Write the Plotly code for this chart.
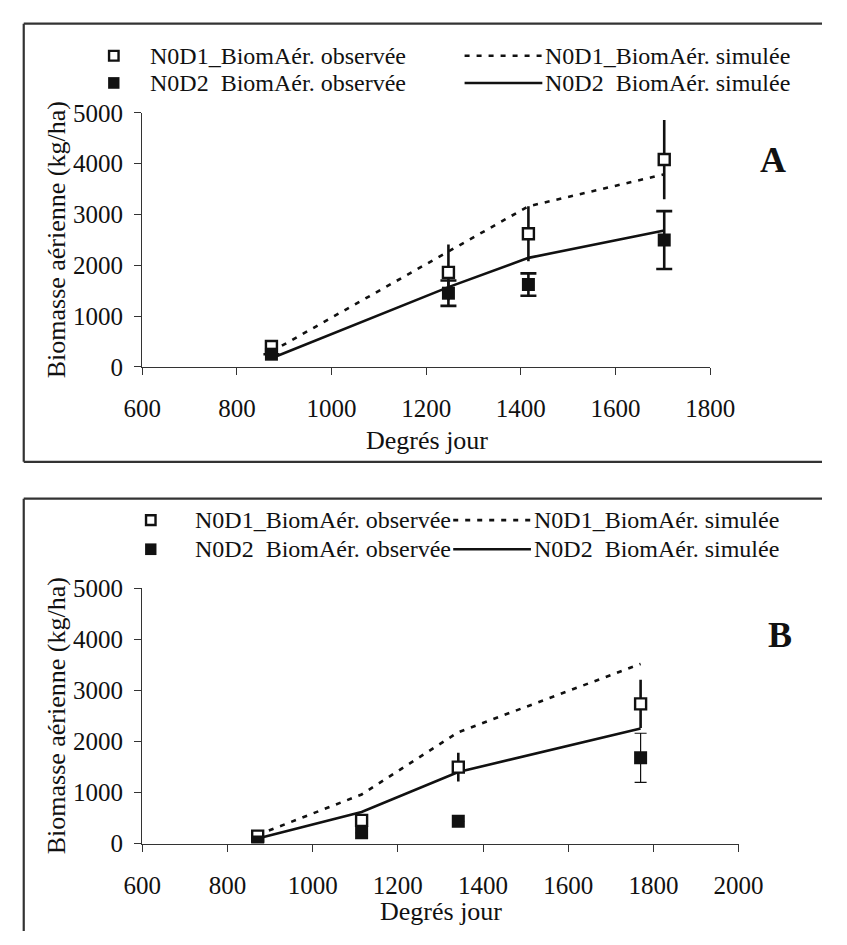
import plotly.graph_objects as go

W, H = 847, 945

# ---------------- data ----------------
# Panel A
a_x = [873, 1247, 1416, 1703]
a_d1_obs = [400, 1860, 2620, 4080]
a_d1_err = [0, 550, 540, 780]
a_d2_obs = [250, 1450, 1620, 2495]
a_d2_err = [0, 250, 220, 570]
a_d1_sim = [300, 2280, 3160, 3790]
a_d2_sim = [170, 1570, 2145, 2685]

# Panel B
b_x = [871, 1115, 1342, 1770]
b_d1_obs = [145, 455, 1496, 2734]
b_d1_err = [0, 0, 280, 470]
b_d2_obs = [30, 210, 436, 1679]
b_d2_err = [0, 0, 0, 480]
b_d1_sim = [170, 960, 2180, 3516]
b_d2_sim = [100, 620, 1400, 2254]

y_ticks = [0, 1000, 2000, 3000, 4000, 5000]
a_x_ticks = [600, 800, 1000, 1200, 1400, 1600, 1800]
b_x_ticks = [600, 800, 1000, 1200, 1400, 1600, 1800, 2000]

lbl_d1_obs = "N0D1_BiomAér. observée"
lbl_d2_obs = "N0D2\u2002BiomAér. observée"
lbl_d1_sim = "N0D1_BiomAér. simulée"
lbl_d2_sim = "N0D2\u2002BiomAér. simulée"
x_title = "Degrés jour"
y_title = "Biomasse aérienne (kg/ha)"

FONT = "Liberation Serif, Times New Roman, serif"
FS = 25
LFS = 24
TFS = 26
INK = "#111111"
AX = "#333333"


def px(x):
    return x / W


def py(y):
    return 1 - y / H


fig = go.Figure()

DASH = "5px,7px"


def add_panel(xs, d1o, d1e, d2o, d2e, d1s, d2s, xa, ya, d2_thick, d2_cap):
    fig.add_trace(go.Scatter(x=xs, y=d1s, mode="lines", xaxis=xa, yaxis=ya,
                             line=dict(color=INK, width=2.6, dash=DASH), showlegend=False))
    fig.add_trace(go.Scatter(x=xs, y=d2s, mode="lines", xaxis=xa, yaxis=ya,
                             line=dict(color=INK, width=2.6), showlegend=False))
    fig.add_trace(go.Scatter(x=xs, y=d1o, mode="markers", xaxis=xa, yaxis=ya,
                             error_y=dict(type="data", array=d1e, visible=True, color=INK,
                                          thickness=2.6, width=0),
                             marker=dict(symbol="square", size=11, color="white",
                                         line=dict(color=INK, width=2.4)),
                             showlegend=False))
    fig.add_trace(go.Scatter(x=xs, y=d2o, mode="markers", xaxis=xa, yaxis=ya,
                             error_y=dict(type="data", array=d2e, visible=True, color=INK,
                                          thickness=d2_thick, width=d2_cap),
                             marker=dict(symbol="square", size=13, color=INK,
                                         line=dict(color=INK, width=0)),
                             showlegend=False))


add_panel(a_x, a_d1_obs, a_d1_err, a_d2_obs, a_d2_err, a_d1_sim, a_d2_sim, "x", "y", 2.6, 8)
add_panel(b_x, b_d1_obs, b_d1_err, b_d2_obs, b_d2_err, b_d1_sim, b_d2_sim, "x2", "y2", 1.2, 6)

axis_common = dict(showline=True, linecolor=AX, linewidth=1.3, ticks="outside", ticklen=7,
                   tickwidth=1.3, tickcolor=AX, showgrid=False, zeroline=False,
                   tickfont=dict(family=FONT, size=FS, color=INK), fixedrange=True)

fig.update_layout(
    width=W, height=H, margin=dict(l=0, r=0, t=0, b=0, pad=0),
    paper_bgcolor="white", plot_bgcolor="white", showlegend=False,
    xaxis=dict(domain=[px(130), px(729)], range=[600, 1800], tickvals=a_x_ticks,
               anchor="y", ticklabelstandoff=12, **axis_common),
    yaxis=dict(domain=[py(364.3), py(102.7)], range=[0, 5000], tickvals=y_ticks,
               anchor="x", ticklabelstandoff=6, **axis_common),
    xaxis2=dict(domain=[px(130), px(759)], range=[600, 2000], tickvals=b_x_ticks,
                anchor="y2", ticklabelstandoff=12, **axis_common),
    yaxis2=dict(domain=[py(855), py(592)], range=[0, 5000], tickvals=y_ticks,
                anchor="x2", ticklabelstandoff=6, **axis_common),
)

shapes = []
annotations = []


def seg(x0, y0, x1, y1, width=2.2, color=AX, dash=None):
    ln = dict(color=color, width=width)
    if dash:
        ln["dash"] = dash
    shapes.append(dict(type="line", xref="paper", yref="paper", x0=px(x0), x1=px(x1),
                       y0=py(y0), y1=py(y1), line=ln))


# frames (right / bottom edges run off the picture in the reference)
seg(5, 11, 5, 462)
seg(5, 11, W, 11)
seg(5, 462, W, 462)
seg(5, 500, 5, H)
seg(5, 500, W, 500)


def legend(mx, tx, lx0, lx1, r1, r2):
    shapes.append(dict(type="rect", xref="paper", yref="paper",
                       x0=px(mx - 5), x1=px(mx + 5), y0=py(r1 + 5), y1=py(r1 - 5),
                       line=dict(color=INK, width=2.4), fillcolor="white"))
    shapes.append(dict(type="rect", xref="paper", yref="paper",
                       x0=px(mx - 6), x1=px(mx + 6), y0=py(r2 + 6), y1=py(r2 - 6),
                       line=dict(color=INK, width=0), fillcolor=INK))
    seg(lx0, r1, lx1, r1, width=2.6, color=INK, dash=DASH)
    seg(lx0, r2, lx1, r2, width=2.6, color=INK)
    for txt, x, y in [(lbl_d1_obs, tx, r1), (lbl_d2_obs, tx, r2),
                      (lbl_d1_sim, lx1 + 1, r1), (lbl_d2_sim, lx1 + 1, r2)]:
        annotations.append(dict(text=txt, xref="paper", yref="paper", x=px(x), y=py(y),
                                xanchor="left", yanchor="middle", showarrow=False,
                                font=dict(family=FONT, size=LFS, color=INK)))


legend(100, 136, 470, 552, 44, 72)
legend(139, 184, 458, 540, 522, 552)

# panel letters
annotations.append(dict(text="<b>A</b>", xref="paper", yref="paper", x=px(795), y=py(151),
                        xanchor="center", yanchor="middle", showarrow=False,
                        font=dict(family=FONT, size=36, color=INK)))
annotations.append(dict(text="<b>B</b>", xref="paper", yref="paper", x=px(803), y=py(640),
                        xanchor="center", yanchor="middle", showarrow=False,
                        font=dict(family=FONT, size=36, color=INK)))

# axis titles
for xc, yc in [(430, 440), (445, 925)]:
    annotations.append(dict(text=x_title, xref="paper", yref="paper", x=px(xc), y=py(yc),
                            xanchor="center", yanchor="middle", showarrow=False,
                            font=dict(family=FONT, size=TFS, color=INK)))
for yc in [233, 723]:
    annotations.append(dict(text=y_title, xref="paper", yref="paper", x=px(39), y=py(yc),
                            xanchor="center", yanchor="middle", showarrow=False, textangle=-90,
                            font=dict(family=FONT, size=TFS, color=INK)))

fig.update_layout(shapes=shapes, annotations=annotations)
fig.write_html("out.html", config={"displayModeBar": False},
               post_script="document.body.style.margin='0px';document.body.style.overflow='hidden';")
